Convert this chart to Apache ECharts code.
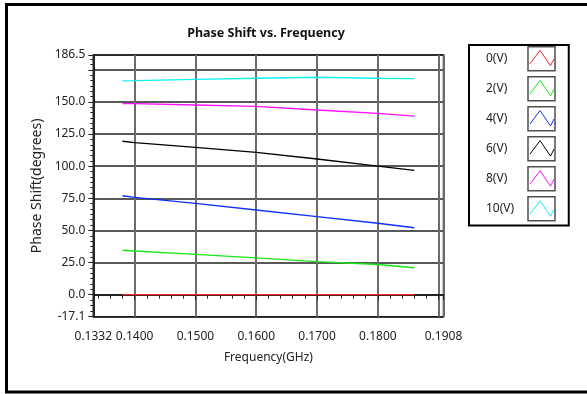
<!DOCTYPE html>
<html>
<head>
<meta charset="utf-8">
<title>Phase Shift vs. Frequency</title>
<script src="https://cdn.jsdelivr.net/npm/echarts@6/dist/echarts.min.js"></script>
<style>
  html, body { margin: 0; padding: 0; background: #fff; }
  #chart { width: 587px; height: 394px; }
</style>
</head>
<body>
<div id="chart"></div>
<script>
// frequency points (GHz)
const freqGHz = [0.138, 0.140, 0.150, 0.160, 0.170, 0.180, 0.186]

// phase shift (degrees) for each bias voltage
const shift0V = [0, 0, 0, 0, 0, 0, 0]
const shift2V = [34.6, 34.0, 31.4, 28.6, 25.7, 23.5, 21.0]
const shift4V = [77.0, 75.8, 71.1, 65.9, 60.7, 55.6, 52.1]
const shift6V = [119.4, 118.3, 114.7, 110.8, 105.6, 100.1, 96.8]
const shift8V = [148.6, 148.6, 147.6, 146.6, 143.7, 141.1, 139.0]
const shift10V = [166.3, 166.5, 167.6, 168.4, 169.2, 168.4, 168.1]

const seriesNames = ['0(V)', '2(V)', '4(V)', '6(V)', '8(V)', '10(V)']
const seriesValues = [shift0V, shift2V, shift4V, shift6V, shift8V, shift10V]
const colors = ['#ff2020', '#18e818', '#1030ff', '#000000', '#ff10ff', '#10f0f0']

// axis range and tick step
const xMin = 0.1332
const xMax = 0.1908
const xStep = 0.01
const yMin = -17.1
const yMax = 186.5
const yStep = 25

const labelFont = { fontFamily: 'Noto Sans', fontSize: 12, color: '#222' }
// zigzag glyph drawn inside each legend box
const zigzag = 'path://M0 13.5L10 0L20.5 15.5L24 8.5'

const chart = echarts.init(document.getElementById('chart'), null, { renderer: 'canvas' })

// both legends share this layout; gaps are tuned so every row is 30px
const legendBase = {
  orient: 'vertical',
  align: 'right',
  selectedMode: false,
  formatter: (name) => `{a|${name}}`
}

const option = {
  animation: false,
  backgroundColor: '#fff',
  title: {
    text: 'Phase Shift vs. Frequency',
    left: 261,
    top: 22,
    textAlign: 'center',
    textStyle: { fontFamily: 'Noto Sans', fontSize: 12.5, fontWeight: 'bold', color: '#111' }
  },
  legend: [
    Object.assign({}, legendBase, {
      z: 4,
      left: 469,
      top: 45,
      itemWidth: 27,
      itemHeight: 24,
      itemGap: 4.5,
      padding: [1, 13, 4, 17],
      borderColor: '#000',
      borderWidth: 2,
      icon: 'rect',
      itemStyle: { color: '#fff', borderColor: '#505050', borderWidth: 1.5 },
      textStyle: { rich: { a: Object.assign({ width: 37, align: 'left' }, labelFont) } },
      data: seriesNames
    }),
    Object.assign({}, legendBase, {
      z: 5,
      left: 471,
      top: 47.8,
      itemWidth: 24,
      itemHeight: 15.5,
      itemGap: 9.6,
      padding: [0, 13, 0, 17],
      borderWidth: 0,
      textStyle: { rich: { a: { width: 37, align: 'left', fontFamily: 'Noto Sans', fontSize: 12, color: 'rgba(0,0,0,0)' } } },
      data: seriesNames.map((name, i) => ({
        name,
        icon: zigzag,
        itemStyle: { color: 'none', borderColor: colors[i], borderWidth: 1 }
      }))
    })
  ],
  grid: {
    left: 93.3,
    right: 143.5,
    top: 55,
    bottom: 77.3,
    show: true,
    borderColor: '#111',
    borderWidth: 1.5
  },
  xAxis: {
    type: 'value',
    min: xMin,
    max: xMax,
    minInterval: xStep,
    maxInterval: xStep,
    name: 'Frequency(GHz)',
    nameLocation: 'middle',
    nameGap: 35,
    nameTextStyle: labelFont,
    axisLine: { show: true, lineStyle: { color: '#111', width: 1.5 } },
    axisTick: { show: true, length: 5, lineStyle: { color: '#222' } },
    minorTick: { show: true, splitNumber: 5, length: 4, lineStyle: { color: '#222' } },
    splitLine: { show: true, lineStyle: { color: '#6b6b6b', width: 2 } },
    axisLabel: Object.assign({
      margin: 14,
      showMinLabel: true,
      showMaxLabel: true,
      formatter: (v) => (v !== xMax && xMax - v < xStep / 2 ? '' : v.toFixed(4))
    }, labelFont)
  },
  yAxis: {
    type: 'value',
    min: yMin,
    max: yMax,
    minInterval: yStep,
    maxInterval: yStep,
    name: 'Phase Shift(degrees)',
    nameLocation: 'middle',
    nameGap: 37,
    nameTextStyle: Object.assign({}, labelFont, { fontSize: 14 }),
    axisLine: { show: true, lineStyle: { color: '#111', width: 1.5 } },
    axisTick: { show: true, length: 5, lineStyle: { color: '#222' } },
    minorTick: { show: true, splitNumber: 6, length: 3, lineStyle: { color: '#222' } },
    splitLine: { show: true, lineStyle: { color: '#222', width: 1.5 } },
    axisLabel: Object.assign({
      margin: 8,
      showMinLabel: true,
      showMaxLabel: true,
      formatter: (v) => (v !== yMax && yMax - v < yStep / 2 ? '' : v.toFixed(1))
    }, labelFont)
  },
  series: seriesNames.map((name, i) => ({
    name,
    type: 'line',
    data: freqGHz.map((f, j) => [f, seriesValues[i][j]]),
    showSymbol: false,
    symbol: 'none',
    color: colors[i],
    lineStyle: { color: colors[i], width: 1.3 },
    z: 3
  })),
  graphic: [{
    // outer frame, open on the right like the source image
    type: 'rect',
    shape: { x: 6.5, y: 4.5, width: 640, height: 387.5 },
    style: { fill: 'none', stroke: '#000', lineWidth: 3 },
    silent: true
  }]
}

chart.setOption(option)
</script>
</body>
</html>
